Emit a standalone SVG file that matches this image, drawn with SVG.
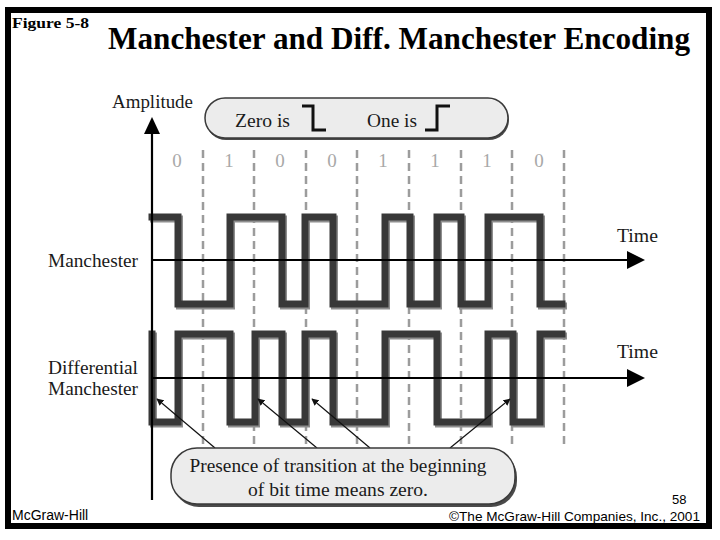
<svg xmlns="http://www.w3.org/2000/svg" width="720" height="540" viewBox="0 0 720 540">
<defs>
<style>
.serif{font-family:"Liberation Serif","Times New Roman",serif;}
.sans{font-family:"Liberation Sans",Arial,sans-serif;}
.lbl{font-size:18px;fill:#1a1a1a;}
.bit{font-size:19px;fill:#a8a8a8;}
.dash{stroke:#9c9c9c;stroke-width:2.5;stroke-dasharray:8 5;fill:none;}
.wave{fill:none;stroke:#383838;stroke-width:7;stroke-linejoin:miter;stroke-linecap:square;}
.wshadow{fill:none;stroke:#8e8e8e;stroke-width:7;stroke-linejoin:miter;stroke-linecap:square;}
.axis{stroke:#000;stroke-width:2.2;fill:none;}
.pill{fill:#ececec;stroke:#3a3a3a;stroke-width:1.5;}
.pshadow{fill:#4a4a4a;}
.ptr{stroke:#111;stroke-width:1.2;fill:none;marker-end:url(#ah);}
.sym{stroke:#111;stroke-width:3;fill:none;}
</style>
<marker id="ah" viewBox="0 0 10 10" refX="9" refY="5" markerWidth="7" markerHeight="7" orient="auto" markerUnits="userSpaceOnUse">
<path d="M0,0 L10,5 L0,10 z" fill="#111"/>
</marker>
</defs>
<rect x="0" y="0" width="720" height="540" fill="#fff"/>
<rect id="frame" x="8" y="10" width="701" height="516" fill="none" stroke="#000" stroke-width="6"/>

<g id="title">
<text class="serif" x="12" y="28" font-size="15" font-weight="bold" textLength="77" lengthAdjust="spacingAndGlyphs">Figure 5-8</text>
<text class="serif" x="108" y="49" font-size="32" font-weight="bold" textLength="582" lengthAdjust="spacingAndGlyphs">Manchester and Diff. Manchester Encoding</text>
</g>

<g id="bit-grid">
<line class="dash" x1="203" y1="150" x2="203" y2="445"/>
<line class="dash" x1="254" y1="150" x2="254" y2="445"/>
<line class="dash" x1="306" y1="150" x2="306" y2="445"/>
<line class="dash" x1="357" y1="150" x2="357" y2="445"/>
<line class="dash" x1="409" y1="150" x2="409" y2="445"/>
<line class="dash" x1="461" y1="150" x2="461" y2="445"/>
<line class="dash" x1="512" y1="150" x2="512" y2="445"/>
<line class="dash" x1="564" y1="150" x2="564" y2="445"/>
</g>

<g id="bits" class="serif bit" text-anchor="middle">
<text x="177" y="167">0</text>
<text x="229" y="167">1</text>
<text x="280" y="167">0</text>
<text x="332" y="167">0</text>
<text x="383" y="167">1</text>
<text x="435" y="167">1</text>
<text x="487" y="167">1</text>
<text x="539" y="167">0</text>
</g>

<g id="manchester">
<path class="wshadow" transform="translate(1.5,2)" d="M152,217 H178 V304 H230 V217 H282 V304 H305 V217 H333 V304 H385 V217 H410 V304 H437 V217 H461 V304 H488 V217 H540 V304 H562"/>
<path class="wave" d="M152,217 H178 V304 H230 V217 H282 V304 H305 V217 H333 V304 H385 V217 H410 V304 H437 V217 H461 V304 H488 V217 H540 V304 H562"/>
</g>

<g id="diff-manchester">
<path class="wshadow" transform="translate(1.5,2)" d="M152,334 V422 H178 V334 H230 V422 H255 V334 H282 V422 H305 V334 H333 V422 H385 V334 H437 V422 H488 V334 H513 V422 H540 V334 H562"/>
<path class="wave" d="M152,334 V422 H178 V334 H230 V422 H255 V334 H282 V422 H305 V334 H333 V422 H385 V334 H437 V422 H488 V334 H513 V422 H540 V334 H562"/>
</g>

<g id="axes">
<line class="axis" x1="152" y1="500" x2="152" y2="133"/>
<path d="M152,117 L160,134 L144,134 z" fill="#000"/>
<line class="axis" x1="152" y1="260" x2="628" y2="260"/>
<path d="M627,251 L645,260 L627,269 z" fill="#000"/>
<line class="axis" x1="152" y1="378" x2="628" y2="378"/>
<path d="M627,369 L645,378 L627,387 z" fill="#000"/>
</g>

<g id="labels" class="serif lbl">
<text x="112" y="108" textLength="81" lengthAdjust="spacingAndGlyphs">Amplitude</text>
<text x="48" y="267" textLength="90" lengthAdjust="spacingAndGlyphs">Manchester</text>
<text x="48" y="374" textLength="90" lengthAdjust="spacingAndGlyphs">Differential</text>
<text x="48" y="395" textLength="90" lengthAdjust="spacingAndGlyphs">Manchester</text>
<text x="617" y="242" textLength="41" lengthAdjust="spacingAndGlyphs">Time</text>
<text x="617" y="358" textLength="41" lengthAdjust="spacingAndGlyphs">Time</text>
</g>

<g id="legend">
<rect class="pshadow" x="206" y="100" width="303" height="40" rx="20"/>
<rect class="pill" x="205" y="98" width="303" height="40" rx="20"/>
<text class="serif lbl" x="235" y="127" textLength="55" lengthAdjust="spacingAndGlyphs">Zero is</text>
<path class="sym" d="M302,106 H313 V130 H326"/>
<text class="serif lbl" x="367" y="127" textLength="50" lengthAdjust="spacingAndGlyphs">One is</text>
<path class="sym" d="M425,130 H437 V106 H450"/>
</g>

<g id="connectors">
<line class="ptr" x1="215" y1="448" x2="157" y2="399"/>
<line class="ptr" x1="317" y1="448" x2="258" y2="399"/>
<line class="ptr" x1="370" y1="448" x2="312" y2="399"/>
<line class="ptr" x1="450" y1="448" x2="510" y2="399"/>
</g>

<g id="note">
<rect class="pshadow" x="173" y="451" width="344" height="56" rx="26"/>
<rect class="pill" x="171" y="448" width="344" height="56" rx="26"/>
<text class="serif lbl" x="338" y="472" text-anchor="middle" textLength="297" lengthAdjust="spacingAndGlyphs">Presence of transition at the beginning</text>
<text class="serif lbl" x="338" y="496" text-anchor="middle" textLength="180" lengthAdjust="spacingAndGlyphs">of bit time means zero.</text>
</g>

<g id="footer" class="sans" fill="#000">
<text x="12" y="520" font-size="14">McGraw-Hill</text>
<text x="672" y="504" font-size="13">58</text>
<text x="700" y="521" font-size="13.5" text-anchor="end" textLength="251" lengthAdjust="spacingAndGlyphs">©The McGraw-Hill Companies, Inc., 2001</text>
</g>
</svg>
